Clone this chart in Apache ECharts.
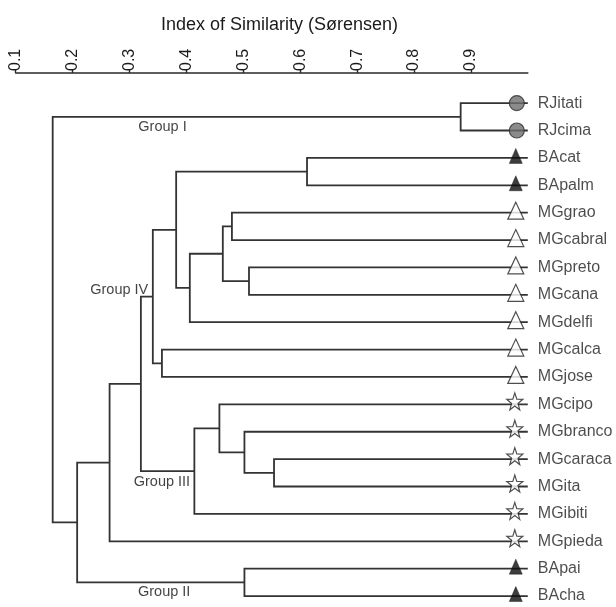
<!DOCTYPE html>
<html>
<head>
<meta charset="utf-8">
<script src="https://cdn.jsdelivr.net/npm/echarts@6/dist/echarts.min.js"></script>
<style>
  html, body { margin: 0; padding: 0; background: #fff; }
  #dendro { width: 616px; height: 607px; }
</style>
</head>
<body>
<div id="dendro"></div>
<script>
    // leaves, top to bottom
    var leafNames = ['RJitati', 'RJcima', 'BAcat', 'BApalm', 'MGgrao', 'MGcabral', 'MGpreto', 'MGcana',
        'MGdelfi', 'MGcalca', 'MGjose', 'MGcipo', 'MGbranco', 'MGcaraca', 'MGita', 'MGibiti', 'MGpieda',
        'BApai', 'BAcha'];
    // marker of each leaf
    var leafKinds = ['circle', 'circle', 'blackTri', 'blackTri', 'whiteTri', 'whiteTri', 'whiteTri', 'whiteTri',
        'whiteTri', 'whiteTri', 'whiteTri', 'star', 'star', 'star', 'star', 'star', 'star',
        'blackTri', 'blackTri'];
    // merges [a, b, similarity], index >= 19 means an earlier merge (19 = first row)
    var merges = [
        [0, 1, 0.882],
        [2, 3, 0.612],
        [4, 5, 0.480],
        [6, 7, 0.510],
        [21, 22, 0.464],
        [23, 8, 0.406],
        [20, 24, 0.382],
        [9, 10, 0.357],
        [25, 26, 0.341],
        [13, 14, 0.554],
        [12, 28, 0.502],
        [11, 29, 0.458],
        [30, 15, 0.414],
        [27, 31, 0.320],
        [32, 16, 0.265],
        [17, 18, 0.502],
        [33, 34, 0.208],
        [19, 35, 0.165]
    ];
    var leafSimilarity = 1.0;
    var tickValues = [0.1, 0.2, 0.3, 0.4, 0.5, 0.6, 0.7, 0.8, 0.9];
    var groupNames = ['Group I', 'Group II', 'Group III', 'Group IV'];
    var groupAt = [[0.358, 0.86], [0.361, 17.85], [0.357, 13.82], [0.282, 6.81]];

    var FONT = '"Liberation Sans", Arial, sans-serif';

    // y of every node = its leaf row, or middle of its two children
    var nodeX = [], nodeY = [];
    leafNames.forEach(function (name, i) {
        nodeX.push(leafSimilarity);
        nodeY.push(i);
    });
    var links = [];
    merges.forEach(function (m) {
        var a = m[0], b = m[1], h = m[2];
        links.push({
            coords: [[nodeX[a], nodeY[a]], [h, nodeY[a]], [h, nodeY[b]], [nodeX[b], nodeY[b]]]
        });
        nodeX.push(h);
        nodeY.push((nodeY[a] + nodeY[b]) / 2);
    });

    var markStyles = {
        circle: {symbol: 'circle', size: 15, offset: [-11, 0],
            style: {color: '#6e6e6e', borderColor: '#2e2e2e', borderWidth: 1.2}},
        blackTri: {symbol: 'triangle', size: [13, 15], offset: [-12, -2],
            style: {color: '#0d0d0d', borderColor: '#0d0d0d', borderWidth: 0.5}},
        whiteTri: {symbol: 'triangle', size: [16, 17], offset: [-12, -2],
            style: {color: '#fff', borderColor: '#222', borderWidth: 1.2}},
        star: {symbol: 'path://M0,-10L2.35,-3.24L9.51,-3.09L3.8,1.24L5.88,8.09L0,4L-5.88,8.09L-3.8,1.24L-9.51,-3.09L-2.35,-3.24Z',
            size: [16, 17], offset: [-13, -3],
            style: {color: '#fff', borderColor: '#222', borderWidth: 1.2}}
    };

    var series = [{
        type: 'lines',
        coordinateSystem: 'cartesian2d',
        polyline: true,
        silent: true,
        z: 2,
        lineStyle: {color: '#333', width: 1.8, opacity: 1},
        data: links
    }];

    Object.keys(markStyles).forEach(function (kind) {
        var ms = markStyles[kind];
        var pts = [];
        leafKinds.forEach(function (k, i) {
            if (k === kind) pts.push([leafSimilarity, i]);
        });
        series.push({
            type: 'scatter',
            symbol: ms.symbol,
            symbolSize: ms.size,
            symbolOffset: ms.offset,
            itemStyle: ms.style,
            z: 5,
            silent: true,
            data: pts
        });
    });

    // leaf names
    series.push({
        type: 'scatter',
        symbolSize: 0,
        z: 6,
        silent: true,
        label: {
            show: true,
            position: 'right',
            distance: 10,
            formatter: function (p) { return leafNames[p.data[1]]; },
            fontFamily: FONT,
            fontSize: 16,
            color: '#1e1e1e'
        },
        data: leafNames.map(function (n, i) { return [leafSimilarity, i]; })
    });

    // group names
    series.push({
        type: 'scatter',
        symbolSize: 0,
        z: 6,
        silent: true,
        label: {
            show: true,
            position: 'inside',
            formatter: function (p) { return groupNames[p.dataIndex]; },
            fontFamily: FONT,
            fontSize: 14.5,
            color: '#111'
        },
        data: groupAt
    });

    var chart = echarts.init(document.getElementById('dendro'));
    chart.setOption({
        animation: false,
        backgroundColor: '#fff',
        title: {
            text: 'Index of Similarity (Sørensen)',
            left: 156,
            top: 11,
            textStyle: {fontFamily: FONT, fontSize: 18, fontWeight: 'normal', color: '#1a1a1a'}
        },
        grid: {left: 15.7, width: 512.1, top: 73, height: 534.9},
        xAxis: {
            type: 'value',
            position: 'top',
            min: 0.1,
            max: 1.0,
            interval: 0.1,
            splitLine: {show: false},
            axisLine: {onZero: false, lineStyle: {color: '#2a2a2a', width: 1.6}},
            axisTick: {customValues: tickValues, length: 4, lineStyle: {color: '#2a2a2a', width: 1.4}},
            axisLabel: {
                customValues: tickValues,
                rotate: -90,
                margin: 2,
                fontFamily: FONT,
                fontSize: 16,
                color: '#1a1a1a',
                formatter: function (v) { return v.toFixed(1); }
            }
        },
        yAxis: {
            type: 'value',
            inverse: true,
            min: -1.1,
            max: 18.4,
            show: false
        },
        series: series
    });
</script>
</body>
</html>
